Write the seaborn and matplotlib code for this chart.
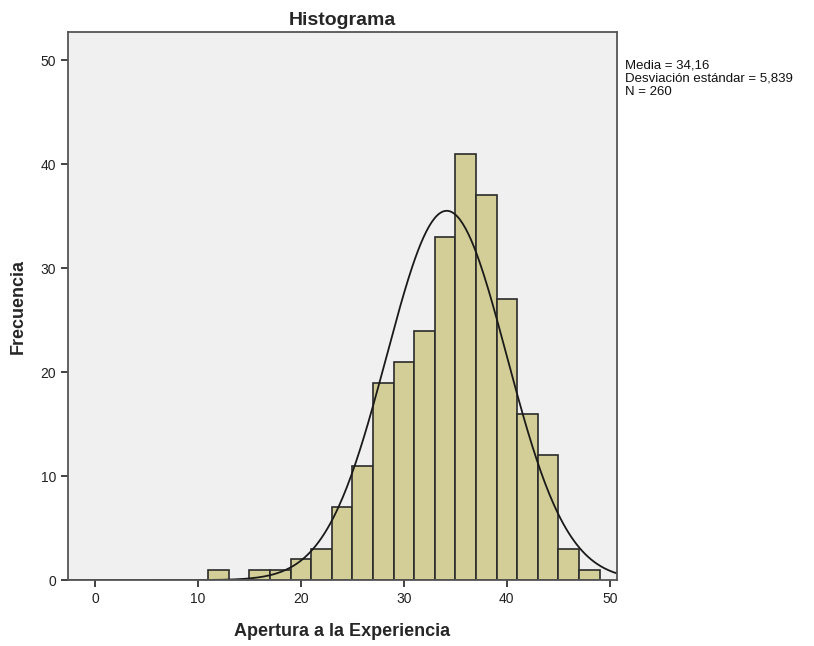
import numpy as np
import pandas as pd
import matplotlib
matplotlib.use("Agg")
import matplotlib.pyplot as plt
import seaborn as sns

# === Data ===
bin_edges = [11, 13, 15, 17, 19, 21, 23, 25, 27, 29, 31, 33, 35, 37, 39, 41, 43, 45, 47, 49]
bin_centers = [12, 14, 16, 18, 20, 22, 24, 26, 28, 30, 32, 34, 36, 38, 40, 42, 44, 46, 48]
counts = [1, 0, 1, 1, 2, 3, 7, 11, 19, 21, 24, 33, 41, 37, 27, 16, 12, 3, 1]
mean_val = 34.16
sd_val = 5.839
n_val = 260
x_ticks = [0, 10, 20, 30, 40, 50]
y_ticks = [0, 10, 20, 30, 40, 50]

sns.set_style("white")
plt.rcParams["font.family"] = ["Liberation Sans", "DejaVu Sans"]

df = pd.DataFrame({"Apertura": bin_centers, "n": counts})

fig = plt.figure(figsize=(8.14, 6.46), dpi=100)
ax = fig.add_axes([0.0832, 0.102, 0.6748, 0.848])
ax.set_facecolor("#F0F0F0")

sns.histplot(data=df, x="Apertura", weights="n", bins=bin_edges, ax=ax,
             color="#D3CE97", edgecolor="#2b2b2b", linewidth=1.2, alpha=1)

# normal curve scaled to counts
xs = np.linspace(-3, 51, 400)
bw = 2
ys = n_val * bw * np.exp(-0.5 * ((xs - mean_val) / sd_val) ** 2) / (sd_val * np.sqrt(2 * np.pi))
sns.lineplot(x=xs, y=ys, ax=ax, color="#1a1a1a", linewidth=1.3)

ax.set_xlim(-2.65, 50.7)
ax.set_ylim(0, 52.7)
ax.set_xticks(x_ticks)
ax.set_yticks(y_ticks)
ax.tick_params(axis="both", direction="out", length=5, width=1.3, color="#333333",
               labelsize=10, labelcolor="#222222", bottom=True, left=True)
for s in ax.spines.values():
    s.set_color("#555555")
    s.set_linewidth(1.3)

ax.set_title("Histograma", fontsize=14, fontweight="bold", pad=5)
ax.set_xlabel("Apertura a la Experiencia", fontsize=13, fontweight="bold", labelpad=12)
ax.set_ylabel("Frecuencia", fontsize=13, fontweight="bold", labelpad=10)

fig.text(0.768, 0.908, "Media = 34,16\nDesviación estándar = 5,839\nN = 260",
         fontsize=9.5, va="top", ha="left", linespacing=1.12, color="#111111")

fig.savefig("out.png", dpi=100, facecolor="white")
